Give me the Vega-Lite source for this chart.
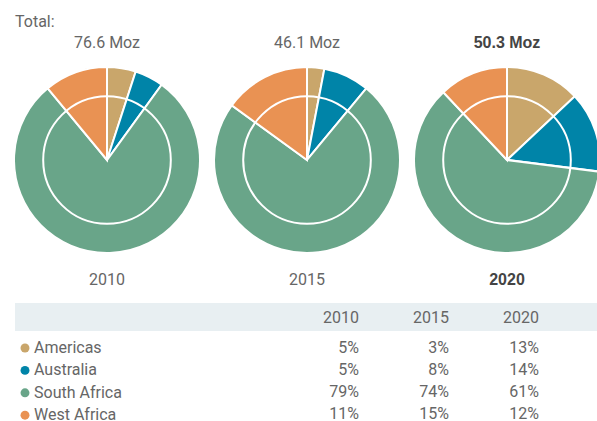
{
  "$schema": "https://vega.github.io/schema/vega-lite/v6.json",
  "padding": {"left": 15, "top": 14, "right": 0, "bottom": 0},
  "spacing": 0,
  "background": "white",
  "config": {
    "view": {"stroke": null},
    "font": "Roboto",
    "text": {"font": "Roboto"}
  },
  "datasets": {
    "shares": [
      {"year": "2010", "region": "Americas", "share": 0.05},
      {"year": "2010", "region": "Australia", "share": 0.05},
      {"year": "2010", "region": "South Africa", "share": 0.79},
      {"year": "2010", "region": "West Africa", "share": 0.11},
      {"year": "2015", "region": "Americas", "share": 0.03},
      {"year": "2015", "region": "Australia", "share": 0.08},
      {"year": "2015", "region": "South Africa", "share": 0.74},
      {"year": "2015", "region": "West Africa", "share": 0.15},
      {"year": "2020", "region": "Americas", "share": 0.13},
      {"year": "2020", "region": "Australia", "share": 0.14},
      {"year": "2020", "region": "South Africa", "share": 0.61},
      {"year": "2020", "region": "West Africa", "share": 0.12}
    ],
    "totals": [
      {"year": "2010", "total": "76.6 Moz", "latest": false},
      {"year": "2015", "total": "46.1 Moz", "latest": false},
      {"year": "2020", "total": "50.3 Moz", "latest": true}
    ]
  },
  "vconcat": [
    {
      "width": 582,
      "height": 286,
      "layer": [
        {
          "data": {"name": "shares"},
          "transform": [
            {"stack": "share", "groupby": ["year"], "sort": [{"field": "region", "order": "ascending"}], "as": ["t0", "t1"]}
          ],
          "mark": {"type": "arc", "outerRadius": 93, "stroke": "white", "strokeWidth": 2, "clip": true},
          "encoding": {
            "x": {"field": "year", "type": "ordinal", "scale": {"type": "point", "domain": ["2010", "2015", "2020"], "range": [92, 492], "padding": 0}, "axis": null},
            "theta": {"field": "t0", "type": "quantitative", "scale": {"domain": [0, 1]}},
            "theta2": {"field": "t1"},
            "color": {
              "field": "region",
              "type": "nominal",
              "scale": {"domain": ["Americas", "Australia", "South Africa", "West Africa"], "range": ["#c9a66b", "#0084a8", "#69a589", "#e99253"]},
              "legend": {
                "orient": "none",
                "legendX": 2,
                "legendY": 323,
                "title": null,
                "symbolType": "circle",
                "symbolSize": 80,
                "symbolStrokeWidth": 0,
                "labelFont": "Roboto",
                "labelFontSize": 16,
                "labelColor": "#666666",
                "labelOffset": 1,
                "rowPadding": 6.4,
                "padding": 0
              }
            }
          }
        },
        {
          "data": {"name": "totals"},
          "mark": {"type": "point", "shape": "circle", "size": 16286, "filled": false, "stroke": "white", "strokeWidth": 2, "opacity": 1, "clip": true},
          "encoding": {
            "x": {"field": "year", "type": "ordinal", "axis": null}
          }
        },
        {
          "data": {"name": "totals"},
          "transform": [{"filter": "datum.year == '2010'"}],
          "mark": {"type": "text", "text": "Total:", "align": "left", "baseline": "middle", "dx": -92, "dy": -138, "fontSize": 16, "color": "#666666"},
          "encoding": {
            "x": {"field": "year", "type": "ordinal", "axis": null}
          }
        },
        {
          "data": {"name": "totals"},
          "transform": [{"filter": "!datum.latest"}],
          "mark": {"type": "text", "align": "center", "baseline": "middle", "dy": -117, "fontSize": 16, "color": "#666666"},
          "encoding": {
            "x": {"field": "year", "type": "ordinal", "axis": null},
            "text": {"field": "total"}
          }
        },
        {
          "data": {"name": "totals"},
          "transform": [{"filter": "!datum.latest"}],
          "mark": {"type": "text", "align": "center", "baseline": "middle", "dy": 120, "fontSize": 16, "color": "#666666"},
          "encoding": {
            "x": {"field": "year", "type": "ordinal", "axis": null},
            "text": {"field": "year"}
          }
        },
        {
          "data": {"name": "totals"},
          "transform": [{"filter": "datum.latest"}],
          "mark": {"type": "text", "align": "center", "baseline": "middle", "dy": -117, "fontSize": 16, "font": "Liberation Sans", "fontWeight": "bold", "color": "#444444"},
          "encoding": {
            "x": {"field": "year", "type": "ordinal", "axis": null},
            "text": {"field": "total"}
          }
        },
        {
          "data": {"name": "totals"},
          "transform": [{"filter": "datum.latest"}],
          "mark": {"type": "text", "align": "center", "baseline": "middle", "dy": 120, "fontSize": 16, "font": "Liberation Sans", "fontWeight": "bold", "color": "#444444"},
          "encoding": {
            "x": {"field": "year", "type": "ordinal", "axis": null},
            "text": {"field": "year"}
          }
        }
      ]
    },
    {
      "width": 582,
      "height": 28,
      "view": {"fill": "#e8eff2", "stroke": null},
      "data": {"name": "totals"},
      "mark": {"type": "text", "align": "right", "baseline": "middle", "dy": 1, "fontSize": 16, "color": "#666666"},
      "encoding": {
        "x": {"field": "year", "type": "ordinal", "scale": {"type": "point", "domain": ["2010", "2015", "2020"], "range": [344, 524], "padding": 0}, "axis": null},
        "text": {"field": "year"}
      }
    },
    {
      "width": 582,
      "height": 90,
      "data": {"name": "shares"},
      "mark": {"type": "text", "align": "right", "baseline": "middle", "fontSize": 16, "color": "#666666"},
      "encoding": {
        "x": {"field": "year", "type": "ordinal", "scale": {"type": "point", "domain": ["2010", "2015", "2020"], "range": [344, 524], "padding": 0}, "axis": null},
        "y": {"field": "region", "type": "nominal", "scale": {"type": "point", "domain": ["Americas", "Australia", "South Africa", "West Africa"], "range": [17, 83], "padding": 0}, "axis": null},
        "text": {"field": "share", "format": ".0%"}
      }
    }
  ]
}
